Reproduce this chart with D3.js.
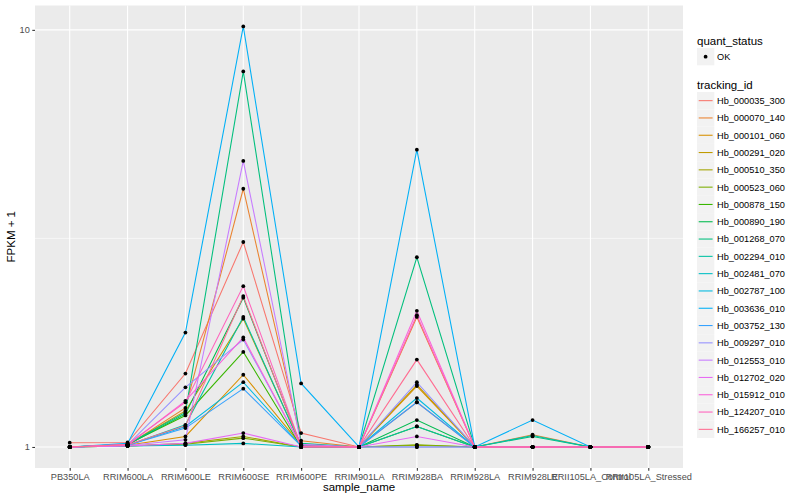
<!DOCTYPE html>
<html>
<head>
<meta charset="utf-8">
<script src="https://cdn.jsdelivr.net/npm/d3@7"></script>
<style>
  body { margin: 0; background: #fff; }
  text { font-family: "Liberation Sans", Arial, sans-serif; }
</style>
</head>
<body>
<div id="chart"></div>
<script>
// samples on the x axis
var samples = ["PB350LA", "RRIM600LA", "RRIM600LE", "RRIM600SE", "RRIM600PE", "RRIM901LA",
  "RRIM928BA", "RRIM928LA", "RRIM928LE", "RRII105LA_Control", "RRII105LA_Stressed"];

var trackingIds = ["Hb_000035_300", "Hb_000070_140", "Hb_000101_060", "Hb_000291_020", "Hb_000510_350",
  "Hb_000523_060", "Hb_000878_150", "Hb_000890_190", "Hb_001268_070", "Hb_002294_010",
  "Hb_002481_070", "Hb_002787_100", "Hb_003636_010", "Hb_003752_130", "Hb_009297_010",
  "Hb_012553_010", "Hb_012702_020", "Hb_015912_010", "Hb_124207_010", "Hb_166257_010"];

// FPKM + 1, one row per tracking id, in sample order
var fpkmPlus1 = [
  [1.024, 1.025, 1.50, 3.10, 1.08, 1, 1.28, 1, 1, 1, 1],
  [1, 1.010, 1.24, 4.16, 1.035, 1, 2.05, 1, 1.07, 1, 1],
  [1, 1.010, 1.06, 1.49, 1.01, 1, 1.40, 1, 1, 1, 1],
  [1, 1.012, 1.22, 2.03, 1.01, 1, 1.41, 1, 1, 1, 1],
  [1, 1.005, 1.02, 1.06, 1, 1, 1.01, 1, 1, 1, 1],
  [1, 1.005, 1.015, 1.05, 1, 1, 1.012, 1, 1, 1, 1],
  [1, 1.015, 1.19, 1.69, 1, 1, 1.12, 1, 1, 1, 1],
  [1, 1.012, 1.20, 2.28, 1.005, 1, 1.16, 1, 1, 1, 1],
  [1, 1.015, 1.21, 7.95, 1.02, 1, 2.85, 1, 1.06, 1, 1],
  [1, 1.01, 1.13, 2.05, 1.005, 1, 1.12, 1, 1.065, 1, 1],
  [1, 1.005, 1.01, 1.02, 1, 1, 1.0, 1, 1, 1, 1],
  [1, 1.01, 1.12, 1.43, 1.005, 1, 1.31, 1, 1, 1, 1],
  [1, 1.02, 1.88, 10.19, 1.42, 1, 5.16, 1, 1.16, 1, 1],
  [1, 1.01, 1.11, 1.38, 1.005, 1, 1.28, 1, 1, 1, 1],
  [1, 1.012, 1.39, 1.81, 1.005, 1, 1.43, 1, 1, 1, 1],
  [1, 1.008, 1.04, 4.85, 1.015, 1, 1.0, 1, 1, 1, 1],
  [1, 1.005, 1.02, 1.08, 1, 1, 1.06, 1, 1, 1, 1],
  [1, 1.01, 1.29, 1.83, 1.005, 1, 2.12, 1, 1, 1, 1],
  [1, 1.015, 1.28, 2.43, 1.005, 1, 2.07, 1, 1, 1, 1],
  [1, 1.012, 1.125, 2.30, 1, 1, 1.62, 1, 1, 1, 1]
];

var yTicks = [1, 10];
var yMinor = [Math.sqrt(10)];

// ggplot default hue palette for 20 levels
var palette = ["#F8766D", "#EA8331", "#D89000", "#C09B00", "#A3A500", "#7CAE00", "#39B600", "#00BB4E",
  "#00BF7D", "#00C1A3", "#00BFC4", "#00BAE0", "#00B0F6", "#35A2FF", "#9590FF", "#C77CFF",
  "#E76BF3", "#FA62DB", "#FF62BC", "#FF6C91"];

var W = 800, H = 500;
var panel = { left: 35, right: 683, top: 5.5, bottom: 468 };

var svg = d3.select("#chart").append("svg")
  .attr("width", W).attr("height", H);

var x = d3.scalePoint().domain(samples)
  .range([panel.left, panel.right]).padding(0.6);

var y = d3.scaleLog()
  .domain([Math.pow(10, -0.0504), Math.pow(10, 1.0584)])
  .range([panel.bottom, panel.top]);

var color = d3.scaleOrdinal().domain(trackingIds).range(palette);

// panel
svg.append("rect")
  .attr("x", panel.left).attr("y", panel.top)
  .attr("width", panel.right - panel.left).attr("height", panel.bottom - panel.top)
  .attr("fill", "#EBEBEB");

// grid
svg.selectAll(".minor").data(yMinor).enter().append("line")
  .attr("x1", panel.left).attr("x2", panel.right)
  .attr("y1", function(d) { return y(d); }).attr("y2", function(d) { return y(d); })
  .attr("stroke", "#fff").attr("stroke-width", 0.55);
svg.selectAll(".hgrid").data(yTicks).enter().append("line")
  .attr("x1", panel.left).attr("x2", panel.right)
  .attr("y1", function(d) { return y(d); }).attr("y2", function(d) { return y(d); })
  .attr("stroke", "#fff").attr("stroke-width", 1.1);
svg.selectAll(".vgrid").data(samples).enter().append("line")
  .attr("y1", panel.top).attr("y2", panel.bottom)
  .attr("x1", function(d) { return x(d); }).attr("x2", function(d) { return x(d); })
  .attr("stroke", "#fff").attr("stroke-width", 1.1);

// lines
var rows = trackingIds.map(function(id, i) {
  return { id: id, values: fpkmPlus1[i].map(function(v, j) { return { s: samples[j], v: v }; }) };
});

var line = d3.line()
  .x(function(d) { return x(d.s); })
  .y(function(d) { return y(d.v); });

svg.selectAll(".series").data(rows).enter().append("path")
  .attr("d", function(d) { return line(d.values); })
  .attr("fill", "none")
  .attr("stroke", function(d) { return color(d.id); })
  .attr("stroke-width", 1.07);

// points
var pts = [];
rows.forEach(function(r) { r.values.forEach(function(p) { pts.push(p); }); });
svg.selectAll(".pt").data(pts).enter().append("circle")
  .attr("cx", function(d) { return x(d.s); })
  .attr("cy", function(d) { return y(d.v); })
  .attr("r", 1.9)
  .attr("fill", "#000");

// axes
var xAxis = d3.axisBottom(x).tickSize(2.7).tickPadding(2.5);
var gx = svg.append("g").attr("transform", "translate(0," + panel.bottom + ")").call(xAxis);
var yAxis = d3.axisLeft(y).tickValues(yTicks).tickFormat(d3.format("d")).tickSize(2.7).tickPadding(2.5);
var gy = svg.append("g").attr("transform", "translate(" + panel.left + ",0)").call(yAxis);
[gx, gy].forEach(function(g) {
  g.select(".domain").remove();
  g.selectAll(".tick line").attr("stroke", "#333333").attr("stroke-width", 1.07);
  g.selectAll(".tick text").attr("fill", "#4D4D4D").attr("font-size", "9.2px")
    .attr("font-family", "Liberation Sans, Arial, sans-serif");
});

// axis titles
svg.append("text").attr("x", (panel.left + panel.right) / 2).attr("y", 491)
  .attr("text-anchor", "middle").attr("font-size", "11.5px").attr("fill", "#000")
  .text("sample_name");
svg.append("text")
  .attr("transform", "translate(15," + ((panel.top + panel.bottom) / 2) + ") rotate(-90)")
  .attr("text-anchor", "middle").attr("font-size", "11.5px").attr("fill", "#000")
  .text("FPKM + 1");

// legends
var lg = svg.append("g").attr("transform", "translate(697,0)");
lg.append("text").attr("x", 0).attr("y", 44.5).attr("font-size", "11.5px").text("quant_status");
lg.append("rect").attr("x", 0).attr("y", 48).attr("width", 17.3).attr("height", 17.3).attr("fill", "#F2F2F2");
lg.append("circle").attr("cx", 8.6).attr("cy", 56.7).attr("r", 1.9).attr("fill", "#000");
lg.append("text").attr("x", 20).attr("y", 60).attr("font-size", "9.2px").attr("fill", "#000").text("OK");

lg.append("text").attr("x", 0).attr("y", 88.5).attr("font-size", "11.5px").text("tracking_id");
var keys = lg.selectAll(".key").data(trackingIds).enter().append("g")
  .attr("transform", function(d, i) { return "translate(0," + (92 + i * 17.3) + ")"; });
keys.append("rect").attr("width", 17.3).attr("height", 17.3).attr("fill", "#F2F2F2");
keys.append("line").attr("x1", 1.7).attr("x2", 15.6).attr("y1", 8.65).attr("y2", 8.65)
  .attr("stroke", function(d) { return color(d); }).attr("stroke-width", 1.07);
keys.append("text").attr("x", 20).attr("y", 12).attr("font-size", "9.2px").attr("fill", "#000")
  .text(function(d) { return d; });
</script>
</body>
</html>
